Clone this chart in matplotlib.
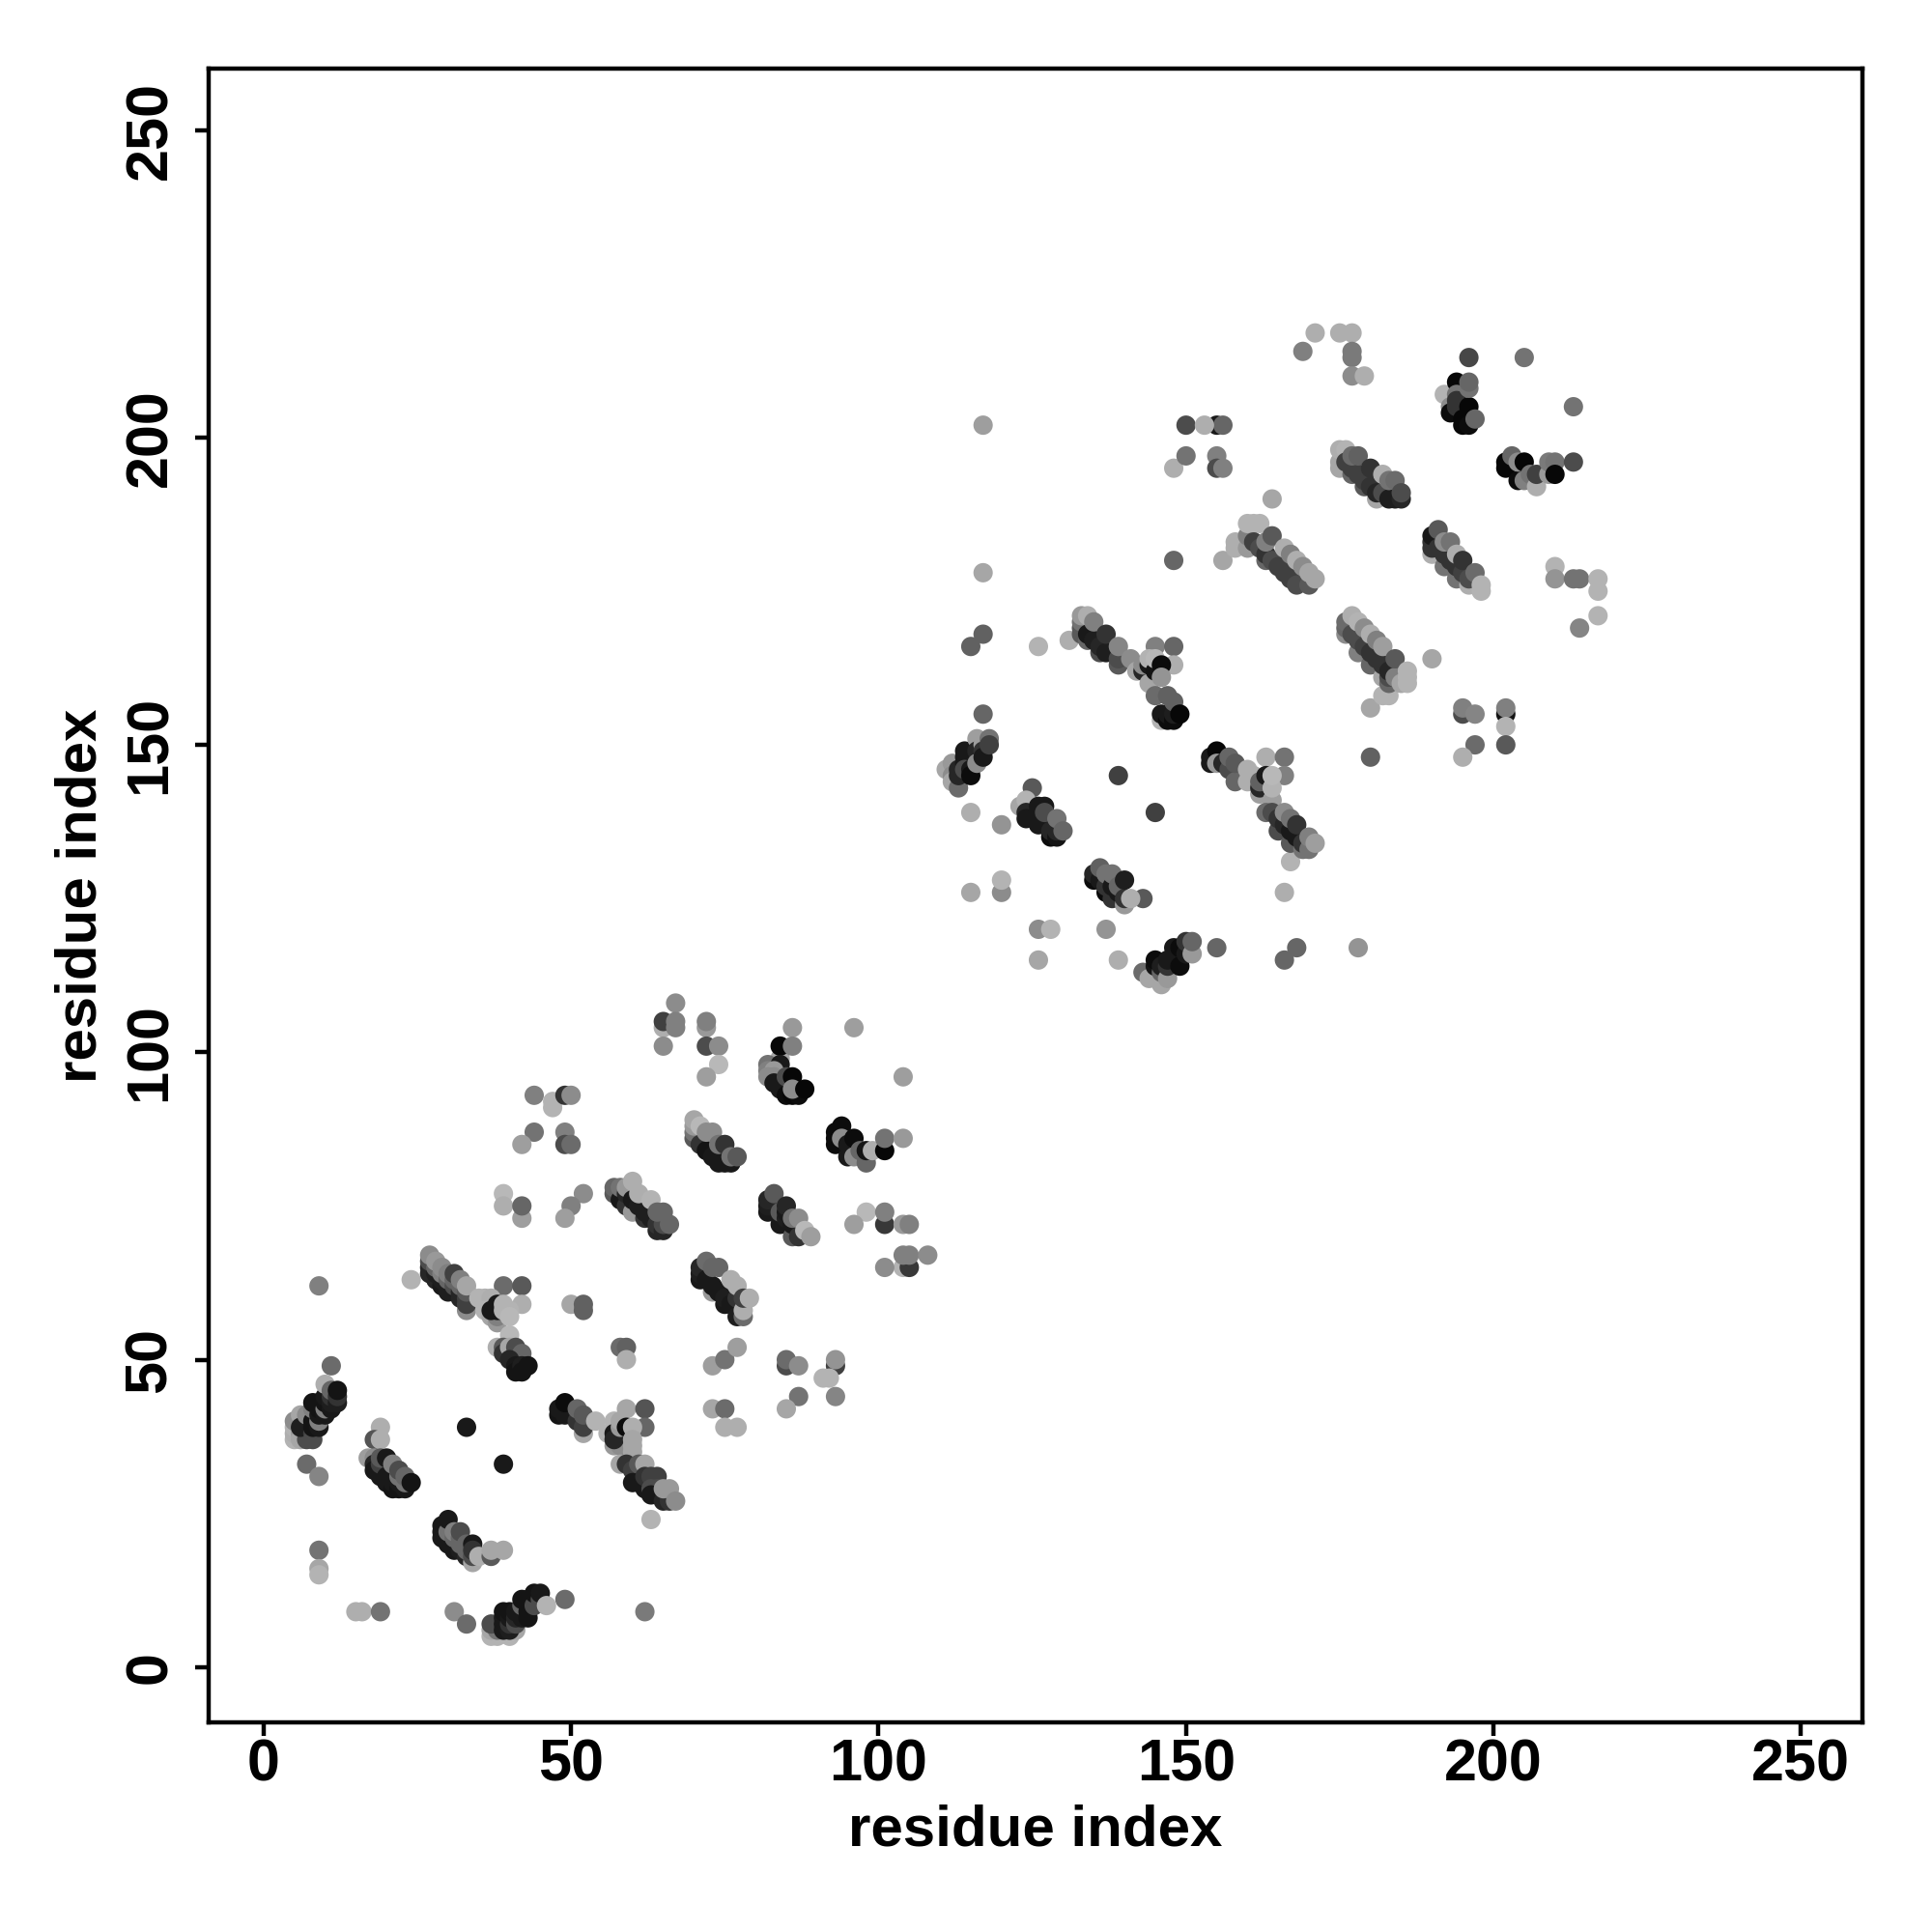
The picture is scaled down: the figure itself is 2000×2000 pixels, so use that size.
import matplotlib
matplotlib.use("Agg")
import matplotlib.pyplot as plt

plt.rcParams['font.family'] = ['Liberation Sans', 'DejaVu Sans']

# each contact is (residue i, residue j, grey level)
stray_lower = [(9,62,.5),(24,63,.7),(39,62,.42),(42,62,.35),(42,59,.68),(50,59,.65),(52,59,.38),(52,58,.38),
    (58,52,.42),(59,52,.38),(59,50,.68),(73,49,.62),(75,50,.45),(77,52,.62),(11,49,.42),(73,42,.65),(75,42,.42),
    (75,39,.68),(77,39,.68),(59,42,.65),(62,42,.33),(62,39,.4),(33,39,.1),(39,33,.1),(7,33,.42),(9,31,.52),
    (19,39,.68),(18,37,.33),(19,37,.68),(63,24,.7),(9,19,.45),(9,16,.65),(9,15,.7),(15,9,.68),(16,9,.68),
    (19,9,.45),(31,9,.55),(33,7,.42),(49,11,.42),(62,9,.48),(65,104,.68),(65,105,.25),(67,108,.55),(67,105,.5),
    (67,104,.5),(65,101,.55),(72,104,.6),(72,105,.5),(72,101,.3),(74,101,.55),(74,98,.72),(72,96,.62),(86,104,.6),
    (96,104,.62),(104,96,.62),(98,74,.72),(96,72,.62),(101,72,.22),(101,74,.5),(104,72,.6),(105,72,.5),(104,65,.7),
    (105,65,.22),(101,65,.55),(104,67,.5),(105,67,.5),(108,67,.55),(44,93,.5),(47,91,.7),(47,92,.7),(49,93,.2),
    (50,93,.55),(44,87,.45),(42,85,.62),(49,87,.5),(49,85,.3),(50,85,.42),(39,77,.72),(39,75,.68),(42,73,.62),
    (42,75,.4),(52,77,.55),(50,75,.5),(49,73,.62),(85,49,.3),(85,50,.42),(87,49,.55),(93,49,.25),(93,50,.58),
    (91,47,.7),(92,47,.7),(87,44,.45),(93,44,.52),(85,42,.65)]

stray_upper = [(117,168,.38),(115,166,.38),(126,166,.7),(131,167,.68),(117,155,.4),(145,166,.5),(148,166,.4),
    (148,163,.68),(145,139,.25),(139,145,.25),(163,148,.68),(166,148,.45),(166,145,.5),(180,148,.38),(115,139,.68),
    (120,137,.58),(125,143,.35),(167,131,.7),(166,126,.68),(120,126,.55),(120,128,.7),(115,126,.65),(126,120,.55),
    (128,120,.7),(137,120,.58),(126,115,.65),(139,115,.68),(155,117,.4),(168,117,.4),(166,115,.4),(178,117,.58),
    (143,125,.35),(180,156,.65),(182,158,.7),(183,158,.7),(171,217,.68),(175,217,.68),(177,217,.68),(169,214,.5),
    (177,214,.48),(177,213,.48),(177,210,.55),(179,210,.68),(196,213,.28),(205,213,.45),(213,205,.45),(164,190,.65),
    (156,180,.65),(158,183,.68),(158,182,.68),(210,179,.7),(210,177,.58),(213,177,.45),(214,177,.45),(217,177,.7),
    (217,175,.7),(217,171,.7),(214,169,.52),(190,164,.65),(195,155,.3),(195,156,.5),(197,155,.52),(202,155,.08),
    (202,156,.5),(202,153,.7),(197,150,.42),(202,150,.35),(195,148,.68),(155,202,.1),(156,202,.4),(155,197,.5),
    (155,195,.3),(156,195,.5),(150,202,.3),(153,202,.68),(148,195,.68),(150,197,.45),(148,180,.4),(117,202,.62),
    (117,178,.65)]

patch_5_12 = [(5,37,.7),(5,38,.68),(5,39,.7),(5,40,.55),(6,41,.65),(6,38,.6),(6,37,.65),(7,37,.3),(7,39,.1),(7,40,.1),
    (6,39,.12),(7,41,.55),(8,38,.25),(8,37,.3),(8,39,.08),(8,40,.08),(8,42,.5),(8,43,.08),(9,39,.1),(9,40,.5),(9,41,.1),
    (9,42,.08),(9,43,.08),(10,41,.1),(10,42,.5),(10,43,.08),(10,44,.1),(10,46,.68),(11,42,.1),(11,43,.12),(11,44,.2),
    (11,45,.4),(12,43,.12),(12,44,.2),(12,45,.08)]

patch_17_24 = [(17,34,.62),(18,34,.55),(18,33,.15),(18,32,.1),(19,32,.1),(19,31,.1),(19,33,.25),(19,34,.35),(20,34,.1),
    (20,31,.1),(20,30,.1),(21,29,.08),(21,30,.1),(21,31,.1),(21,33,.5),(22,29,.08),(22,30,.1),(22,31,.45),(22,32,.3),
    (23,29,.1),(23,30,.45),(23,31,.4),(24,30,.08)]

patch_29_39 = [(29,21,.1),(29,22,.1),(29,23,.1),(30,20,.1),(30,21,.1),(30,22,.45),(30,24,.1),(31,19,.1),(31,20,.1),
    (31,21,.4),(31,22,.5),(32,19,.12),(32,20,.4),(32,21,.4),(32,22,.3),(33,18,.15),(33,19,.4),(33,20,.4),(34,17,.65),
    (34,18,.3),(34,20,.1),(34,19,.2),(35,18,.68),(37,18,.35),(37,19,.65),(39,19,.65)]

patch_37_46 = [(37,5,.7),(38,5,.7),(40,5,.7),(37,6,.65),(38,6,.45),(41,6,.65),(37,7,.3),(38,7,.3),(39,6,.1),(39,7,.1),
    (39,8,.1),(39,9,.08),(40,6,.12),(40,7,.2),(40,8,.1),(40,9,.08),(41,7,.3),(41,8,.15),(41,9,.1),(42,8,.1),(42,9,.1),
    (42,10,.4),(42,11,.08),(43,8,.08),(43,9,.08),(43,10,.08),(43,11,.08),(44,10,.3),(44,12,.08),(45,11,.3),(45,12,.1),
    (46,10,.7)]

patch_27_43 = [(27,64,.15),(27,65,.15),(27,66,.3),(27,67,.55),(28,63,.15),(28,64,.12),(28,65,.4),(28,66,.6),(29,62,.1),
    (29,63,.12),(29,64,.5),(29,65,.55),(30,61,.12),(30,62,.12),(30,63,.4),(30,64,.5),(31,61,.12),(31,62,.3),(31,63,.4),
    (31,64,.25),(32,60,.15),(32,61,.15),(32,62,.4),(32,63,.5),(33,58,.55),(33,59,.25),(33,60,.25),(33,61,.35),(33,62,.65),
    (35,60,.7),(36,60,.7),(37,60,.68),(36,58,.7),(37,57,.65),(38,56,.6),(38,57,.5),(37,58,.1),(38,58,.1),(38,59,.1),
    (39,59,.7),(39,58,.7),(40,58,.7),(40,57,.72),(40,54,.72),(38,52,.68),(39,52,.35),(39,51,.2),(40,52,.65),(41,52,.3),
    (42,51,.4),(40,50,.15),(41,49,.1),(41,48,.08),(42,49,.12),(42,48,.08),(43,49,.08)]

patch_48_67 = [(48,41,.08),(48,42,.1),(49,41,.1),(49,43,.05),(51,40,.2),(51,42,.4),(52,38,.65),(52,39,.25),(52,41,.35),
    (54,40,.7),(57,40,.7),(56,38,.7),(57,36,.6),(58,36,.55),(57,38,.1),(57,37,.15),(58,39,.6),(58,40,.65),(59,39,.05),
    (60,39,.68),(60,37,.65),(60,36,.65),(60,35,.65),(58,33,.65),(59,33,.2),(60,32,.25),(61,33,.35),(62,33,.65),(60,30,.1),
    (61,30,.1),(62,29,.1),(62,31,.2),(63,31,.25),(64,31,.25),(63,29,.3),(64,29,.3),(63,28,.1),(64,28,.1),(65,28,.1),
    (65,27,.15),(66,27,.2),(65,29,.6),(66,29,.6),(67,27,.55)]

patch_82_88 = [(84,99,.65),(82,98,.45),(84,101,.03),(86,101,.5),(84,98,.1),(82,97,.5),(83,97,.6),(82,96,.55),(83,96,.55),
    (83,95,.1),(84,94,.1),(85,96,.3),(86,96,.03),(85,93,.05),(86,93,.03),(87,93,.05),(86,94,.55),(88,94,.03)]

patch_93_104 = [(94,88,.05),(93,87,.05),(93,86,.05),(93,85,.05),(94,86,.55),(95,85,.1),(95,83,.1),(96,83,.55),(96,86,.05),
    (97,84,.4),(98,82,.4),(98,83,.4),(98,84,.08),(99,84,.68),(101,84,.03),(101,86,.45),(104,86,.6)]

patch_70_77 = [(70,86,.35),(70,87,.45),(70,88,.6),(70,89,.65),(71,88,.72),(71,85,.2),(72,84,.08),(72,87,.55),(73,83,.1),
    (73,87,.55),(74,82,.1),(74,85,.45),(75,82,.1),(75,85,.2),(76,82,.1),(76,83,.45),(77,83,.35)]

patch_57_66 = [(57,77,.35),(57,78,.4),(58,76,.1),(58,78,.45),(59,75,.2),(59,77,.15),(59,78,.6),(60,74,.6),(60,76,.1),
    (60,79,.68),(61,75,.12),(61,77,.68),(62,73,.2),(62,74,.12),(63,73,.12),(63,76,.7),(64,71,.15),(64,72,.2),(65,71,.15),
    (65,72,.3),(64,74,.4),(65,74,.4),(66,72,.4)]

patch_82_89 = [(82,74,.1),(82,75,.12),(82,76,.15),(83,77,.35),(84,72,.1),(84,74,.35),(85,73,.12),(85,74,.1),(85,75,.15),
    (86,70,.35),(86,72,.1),(86,73,.45),(87,70,.2),(87,73,.55),(88,71,.72),(89,70,.62)]

patch_71_79 = [(71,63,.1),(71,64,.12),(71,65,.15),(72,63,.1),(72,66,.42),(73,61,.6),(73,62,.1),(73,65,.4),(74,61,.1),
    (74,65,.4),(75,59,.1),(75,60,.12),(76,59,.1),(76,63,.68),(77,57,.12),(77,60,.2),(77,62,.68),(78,57,.42),(78,58,.68),
    (78,60,.25),(79,60,.68)]

patch_112_118 = [(111,146,.65),(112,147,.6),(112,145,.55),(112,144,.65),(113,143,.42),(113,145,.15),(113,146,.15),
    (114,149,.1),(114,148,.1),(114,147,.1),(114,146,.3),(115,146,.1),(115,145,.05),(116,151,.62),(116,149,.15),
    (116,147,.55),(117,150,.62),(117,149,.2),(117,148,.1),(118,151,.45),(118,150,.25)]

patch_123_130 = [(123,140,.65),(124,141,.7),(124,139,.15),(124,138,.1),(126,137,.1),(126,140,.1),(127,140,.1),(127,137,.1),
    (127,139,.3),(128,135,.05),(128,136,.15),(129,135,.08),(129,136,.15),(129,138,.45),(130,136,.4)]

patch_135_141 = [(135,128,.05),(135,129,.15),(136,128,.1),(136,130,.38),(137,126,.05),(137,127,.2),(137,129,.45),
    (138,125,.2),(138,127,.1),(138,129,.45),(139,126,.1),(139,127,.4),(140,124,.6),(140,125,.2),(140,128,.12),(141,125,.68)]

patch_143_151 = [(143,113,.42),(144,112,.65),(146,111,.65),(145,114,.08),(145,115,.05),(146,113,.4),(146,114,.12),(147,112,.6),
    (147,114,.2),(147,115,.1),(148,115,.1),(148,117,.1),(149,114,.05),(149,117,.05),(150,116,.1),(150,118,.2),(151,116,.6),
    (151,118,.4)]

patch_133_149 = [(133,168,.35),(133,169,.35),(133,170,.45),(133,171,.6),(134,167,.4),(134,168,.1),(134,171,.68),(135,167,.12),
    (135,170,.5),(136,165,.3),(136,166,.15),(137,165,.12),(137,168,.2),(138,165,.12),(139,163,.35),(139,164,.3),(139,166,.52),
    (141,164,.55),(142,162,.65),(143,162,.15),(143,163,.55),(144,160,.65),(144,163,.1),(144,164,.7),(145,162,.08),(145,164,.72),
    (146,163,.05),(146,161,.58),(145,158,.42),(146,154,.7),(146,155,.1),(147,154,.05),(147,155,.1),(147,158,.38),(148,154,.05),
    (148,155,.12),(148,157,.38),(149,155,.03)]

patch_154_171 = [(154,147,.1),(154,148,.1),(155,149,.03),(155,147,.6),(156,147,.15),(157,146,.3),(157,148,.4),(158,144,.4),
    (158,147,.35),(160,146,.68),(160,144,.68),(161,145,.68),(162,142,.62),(162,143,.15),(162,144,.38),(163,145,.1),(164,141,.62),
    (164,143,.7),(164,145,.72),(163,139,.42),(164,139,.3),(165,136,.3),(165,138,.2),(166,137,.15),(166,139,.55),(167,134,.35),
    (167,136,.1),(167,138,.45),(168,135,.1),(168,137,.2),(169,133,.45),(169,134,.2),(170,133,.45),(170,135,.5),(171,134,.62)]

patch_175_185 = [(175,195,.65),(175,196,.65),(175,198,.68),(176,198,.7),(176,196,.25),(177,194,.4),(177,195,.25),(177,197,.42),
    (178,194,.25),(178,197,.38),(179,192,.35),(179,193,.25),(180,192,.2),(180,195,.2),(181,190,.65),(181,191,.15),(182,191,.3),
    (182,194,.68),(183,190,.12),(183,193,.45),(184,190,.12),(184,193,.42),(185,190,.15),(185,191,.3)]

patch_192_197 = [(192,207,.7),(193,205,.55),(193,204,.05),(194,209,.03),(194,207,.45),(194,206,.2),(194,205,.2),(195,202,.03),
    (195,203,.03),(196,202,.05),(196,205,.03),(196,208,.45),(196,209,.4),(197,203,.4)]

patch_202_213 = [(202,195,.03),(202,196,.03),(203,197,.4),(204,193,.05),(204,196,.55),(205,193,.5),(205,196,.02),(206,194,.45),
    (207,192,.68),(207,194,.25),(209,194,.6),(209,196,.48),(210,196,.45),(210,194,.03),(213,196,.3)]

patch_190_198 = [(190,181,.68),(190,182,.2),(190,183,.2),(190,184,.1),(191,182,.2),(191,185,.35),(192,179,.45),(192,181,.2),
    (192,183,.55),(193,180,.2),(193,183,.45),(194,177,.45),(194,179,.2),(194,181,.68),(195,178,.25),(195,180,.2),(196,176,.68),
    (196,177,.3),(197,178,.42),(198,176,.7),(198,175,.7)]

patch_160_171 = [(160,182,.6),(160,184,.5),(160,186,.7),(161,186,.7),(162,186,.7),(161,183,.25),(162,182,.3),(163,180,.4),
    (163,181,.2),(163,183,.5),(164,180,.3),(164,184,.35),(165,179,.25),(166,178,.25),(166,182,.68),(167,177,.25),(167,181,.5),
    (168,176,.3),(168,180,.68),(169,179,.55),(170,176,.35),(170,178,.65),(171,177,.65)]

patch_176_186 = [(176,168,.55),(176,169,.4),(176,170,.42),(177,168,.3),(177,171,.68),(178,165,.5),(178,167,.3),(178,170,.7),
    (179,166,.25),(179,169,.55),(180,163,.4),(180,165,.2),(180,168,.68),(181,164,.2),(181,167,.5),(182,161,.65),(182,163,.2),
    (182,166,.62),(183,160,.4),(183,161,.3),(183,162,.15),(184,161,.5),(184,164,.35),(185,160,.65),(186,160,.7),(186,161,.7),
    (186,162,.7)]

all_patches = [stray_lower, stray_upper, patch_5_12, patch_17_24, patch_29_39, patch_37_46, patch_27_43, patch_48_67,
    patch_82_88, patch_93_104, patch_70_77, patch_57_66, patch_82_89, patch_71_79, patch_112_118, patch_123_130,
    patch_135_141, patch_143_151, patch_133_149, patch_154_171, patch_175_185, patch_192_197, patch_202_213,
    patch_190_198, patch_160_171, patch_176_186]

tick_values = [0, 50, 100, 150, 200, 250]

fig = plt.figure(figsize=(10, 10), dpi=200)
ax = fig.add_axes([0.1078, 0.1085, 0.8562, 0.8560])

for patch in all_patches:
    xs = [p[0] for p in patch]
    ys = [p[1] for p in patch]
    greys = [p[2] for p in patch]
    ax.scatter(xs, ys, c=greys, cmap='gray', vmin=0, vmax=1, s=52, linewidths=0, zorder=2)

ax.set_xlim(-9, 260)
ax.set_ylim(-9, 260)
ax.set_xticks(tick_values)
ax.set_yticks(tick_values)
ax.tick_params(axis='x', length=5, width=1.6, labelsize=22, pad=1)
ax.tick_params(axis='y', length=5, width=1.6, labelsize=22, pad=6)
for lab in ax.get_xticklabels() + ax.get_yticklabels():
    lab.set_fontweight('bold')
for lab in ax.get_yticklabels():
    lab.set_rotation(90)
    lab.set_va('center')
for sp in ax.spines.values():
    sp.set_linewidth(1.6)
ax.set_xlabel('residue index', fontsize=21.6, fontweight='bold', labelpad=4)
ax.set_ylabel('residue index', fontsize=21.6, fontweight='bold', labelpad=6)

fig.savefig('out.png', dpi=200)
